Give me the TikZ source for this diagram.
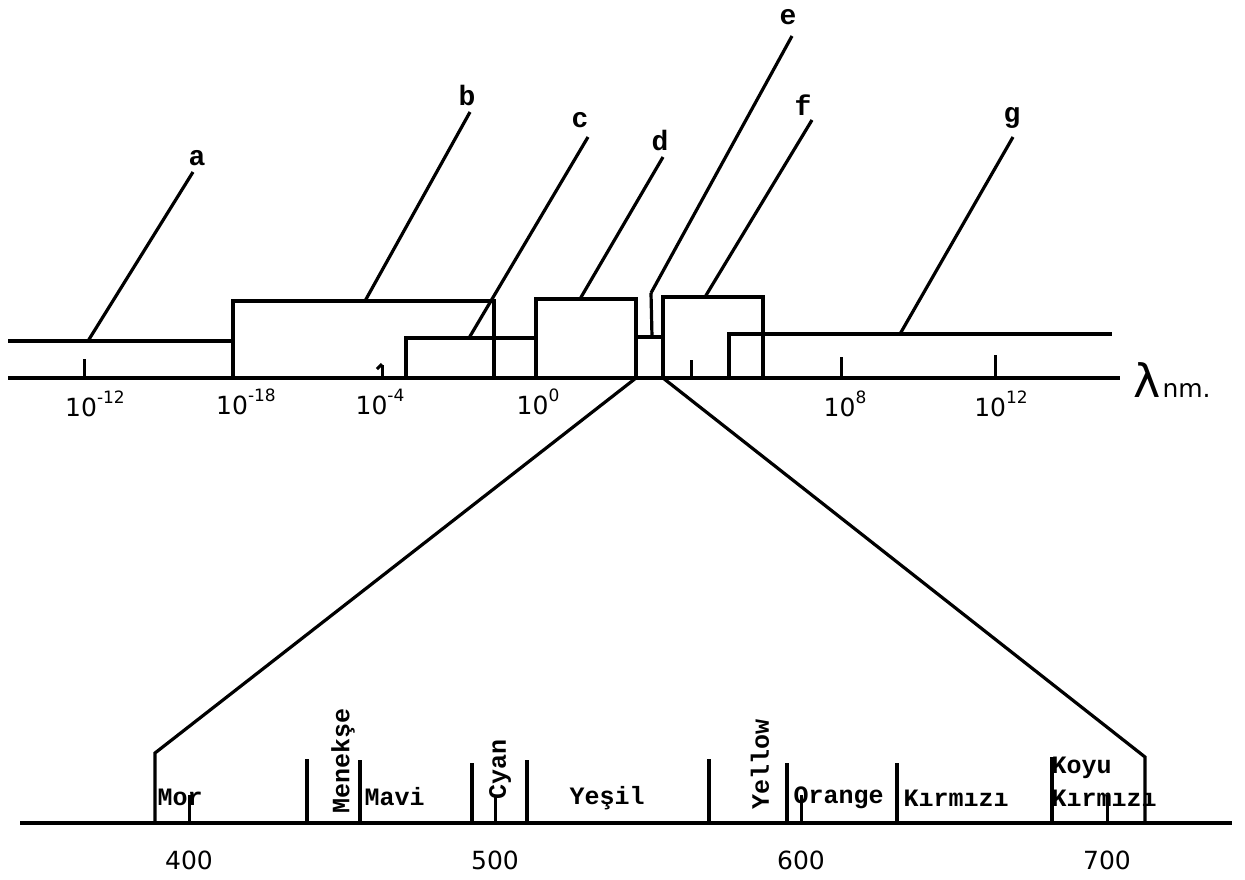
\documentclass[tikz,border=0pt]{standalone}
\usepackage{fontspec}
\setmainfont{DejaVu Sans}
\newfontfamily\twfont{Liberation Mono}
\newfontfamily\numfont{DejaVu Sans}
\newcommand\tenpow[1]{10\raisebox{0.5em}{\fontsize{17}{17}\selectfont #1}}
\begin{document}
\begin{tikzpicture}[x=1pt,y=-1pt,line width=3.2pt,line join=miter,
  letter/.style={font=\twfont\bfseries\fontsize{28}{28}\selectfont,inner sep=0pt},
  band/.style={font=\twfont\bfseries\fontsize{25}{25}\selectfont,inner sep=0pt},
  scal/.style={font=\numfont\fontsize{25}{25}\selectfont,inner sep=0pt},
  num/.style={font=\numfont\fontsize{25}{25}\selectfont,inner sep=0pt},
  tk/.style={line width=3pt}]
\useasboundingbox (0,0) rectangle (1245,879);
% ---------- upper scale ----------
\coordinate (axL) at (8,378);
\coordinate (axR) at (1120,378);
\draw (axL) -- (axR);
\draw (8,341) -- (233,341);
% boxes
\draw (233,378) -- (233,301) -- (494,301) -- (494,378);
\draw (406,378) -- (406,338) -- (536,338);
\draw (536,378) -- (536,299) -- (636,299) -- (636,378);
\draw (636,337) -- (663,337);
\draw (652,337) -- (651,293);
\draw (663,378) -- (663,297) -- (763,297) -- (763,378);
\draw (729,378) -- (729,334) -- (1112,334);
% ticks
\draw[tk] (84,359) -- (84,378);
\draw[tk] (382,365) -- (382,378);
\draw[tk] (377,369) -- (382,364);
\draw[tk] (691,360) -- (691,378);
\draw[tk] (841,357) -- (841,378);
\draw[tk] (995,355) -- (995,378);
% leader lines and letters
\node[letter] (la) at (197,158) {a};
\node[letter] (lb) at (467,95) {b};
\node[letter] (lc) at (580,120) {c};
\node[letter] (ld) at (660,140) {d};
\node[letter] (le) at (788,17) {e};
\node[letter] (lf) at (803,105) {f};
\node[letter] (lg) at (1012,118) {g};
\coordinate (pa) at (88,341);
\coordinate (pb) at (365,301);
\coordinate (pc) at (469,338);
\coordinate (pd) at (580,299);
\coordinate (pe) at (651,293);
\coordinate (pf) at (705,297);
\coordinate (pg) at (900,334);
\draw (pa) -- (193,172);
\draw (pb) -- (470,112);
\draw (pc) -- (588,137);
\draw (pd) -- (663,157);
\draw (pe) -- (792,36);
\draw (pf) -- (812,120);
\draw (pg) -- (1013,137);
% scale labels
\node[scal] (s1) at (95,404) {\tenpow{-12}};
\node[scal] (s2) at (246,402) {\tenpow{-18}};
\node[scal] (s3) at (380,402) {\tenpow{-4}};
\node[scal] (s4) at (538,402) {\tenpow{0}};
\node[scal] (s5) at (845,404) {\tenpow{8}};
\node[scal] (s6) at (1001,404) {\tenpow{12}};
\node[inner sep=0pt,anchor=west] (lam) at (1132,380) {{\fontsize{46}{46}\selectfont λ}\,{\fontsize{25}{25}\selectfont nm.}};
% ---------- zoom lines ----------
\coordinate (zl) at (636,378);
\coordinate (zr) at (663,378);
\coordinate (bl) at (155,753);
\coordinate (br) at (1145,757);
\draw (zl) -- (bl) -- (155,823);
\draw (zr) -- (br) -- (1145,823);
% ---------- lower scale ----------
\draw (20,823) -- (1232,823);
\foreach \x/\t in {307/759,360/760,472/763,527/760,709/759,787/763,897/763,1052/757}
  \draw (\x,\t) -- (\x,823);
\foreach \x/\l in {189/400,495/500,801/600,1107/700}{
  \draw[tk] (\x,795) -- (\x,823);
  \node[num] at (\x,860) {\l};
}
\node[band,anchor=west] (mor) at (156,797) {Mor};
\node[band,rotate=90] (men) at (343,761) {Menekşe};
\node[band,anchor=west] (mav) at (363,797) {Mavi};
\node[band,rotate=90] (cya) at (500,769) {Cyan};
\node[band] (yes) at (607,798) {Yeşil};
\node[band,rotate=90] (yel) at (760,764) {Yellow};
\node[band,anchor=west] (ora) at (792,798) {Orange};
\node[band,anchor=west] (kir) at (902,798) {Kırmızı};
\node[band,anchor=west] (koy) at (1050,768) {Koyu};
\node[band,anchor=west] (kk) at (1050,798) {Kırmızı};
\end{tikzpicture}
\end{document}
